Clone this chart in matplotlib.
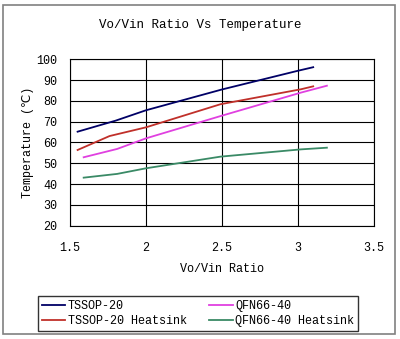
import matplotlib.pyplot as plt
from matplotlib.patches import Rectangle

# data
x_tssop = [1.55, 1.8, 2.0, 2.5, 3.0, 3.1]
y_tssop = [65.2, 70.5, 75.5, 85.5, 94.5, 96.2]

x_tssop_hs = [1.55, 1.76, 2.0, 2.49, 3.02, 3.1]
y_tssop_hs = [56.4, 63.1, 67.3, 78.4, 85.6, 87.0]

x_qfn = [1.59, 1.81, 2.0, 2.49, 3.02, 3.19]
y_qfn = [52.9, 56.9, 62.0, 72.7, 84.0, 87.3]

x_qfn_hs = [1.59, 1.81, 2.0, 2.49, 3.02, 3.19]
y_qfn_hs = [43.1, 44.9, 47.6, 53.2, 56.7, 57.5]

labels = ['TSSOP-20', 'TSSOP-20 Heatsink', 'QFN66-40', 'QFN66-40 Heatsink']
colors = ['#000066', '#c0302a', '#e040e0', '#3a8a66']

xticks = [1.5, 2, 2.5, 3, 3.5]
yticks = [20, 30, 40, 50, 60, 70, 80, 90, 100]

plt.rcParams['font.family'] = ['Liberation Mono', 'DejaVu Sans', 'Noto Sans CJK SC']

fig = plt.figure(figsize=(4, 3.39), dpi=100)
fig.patches.append(Rectangle((3/400, 5/339), 392/400, 329/339, transform=fig.transFigure,
                             fill=False, edgecolor='#808080', lw=1.2))
ax = fig.add_axes([70/400, 1 - 225.7/339, 304/400, 166.4/339])

ax.plot(x_tssop, y_tssop, color=colors[0], lw=1.3, label=labels[0])
ax.plot(x_tssop_hs, y_tssop_hs, color=colors[1], lw=1.3, label=labels[1])
ax.plot(x_qfn, y_qfn, color=colors[2], lw=1.3, label=labels[2])
ax.plot(x_qfn_hs, y_qfn_hs, color=colors[3], lw=1.3, label=labels[3])

ax.set_xlim(1.5, 3.5)
ax.set_ylim(20, 100)
ax.set_xticks(xticks)
ax.set_xticklabels(['1.5', '2', '2.5', '3', '3.5'])
ax.set_yticks(yticks)
ax.grid(True, color='black', lw=0.8)
ax.tick_params(length=0, labelsize=8.5)
ax.tick_params(axis='x', pad=12)
ax.tick_params(axis='y', pad=9)
for s in ax.spines.values():
    s.set_linewidth(0.8)

fig.text(0.5, 1 - 25/339, 'Vo/Vin Ratio Vs Temperature', fontsize=9, ha='center', va='center')
ax.set_xlabel('Vo/Vin Ratio', fontsize=8.5, labelpad=6)
ax.set_ylabel('Temperature (℃)', fontsize=8.5, labelpad=2)

fig.legend(loc='lower left', bbox_to_anchor=(38/400, 1 - 331/339, 320/400, 41/339),
           mode='expand', ncol=2, fontsize=8.5, frameon=True, fancybox=False,
           edgecolor='black', handlelength=2, handletextpad=0.2, borderpad=0.3,
           labelspacing=0.3, columnspacing=0.5, borderaxespad=0)

fig.savefig('out.png', dpi=100)
